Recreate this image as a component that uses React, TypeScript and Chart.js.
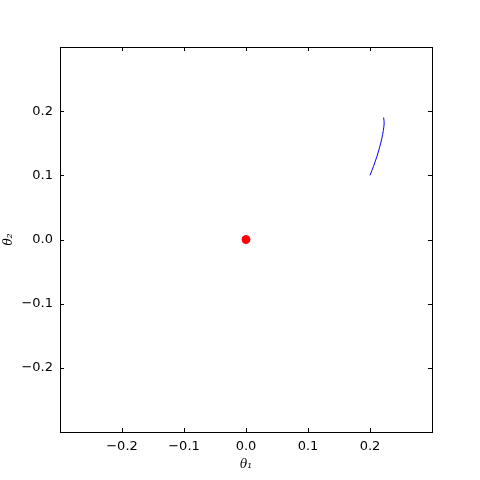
import React, { useEffect, useRef } from "react";
import { Chart, registerables } from "chart.js";

Chart.register(...registerables);

const curveX = [0.2, 0.206, 0.211, 0.2156, 0.219, 0.2215, 0.2228, 0.2225, 0.222];
const curveY = [0.1, 0.115, 0.129, 0.144, 0.157, 0.17, 0.18, 0.186, 0.19];
const pointX = [0.0];
const pointY = [0.0];
const tickValues = [-0.2, -0.1, 0.0, 0.1, 0.2];
const axisMin = -0.3;
const axisMax = 0.3;
const xTitle = "θ₁";
const yTitle = "θ₂";

const fmt = (v: number) => {
  const s = Math.abs(v).toFixed(1);
  return v < -1e-9 ? "\u2212" + s : s;
};

const framePlugin = {
  id: "frameTicks",
  afterDatasetsDraw(chart: any) {
    const { ctx, chartArea: a, scales } = chart;
    ctx.save();
    ctx.strokeStyle = "#000";
    ctx.lineWidth = 1;
    const L = 4;
    ctx.beginPath();
    for (const v of tickValues) {
      const px = Math.round(scales.x.getPixelForValue(v)) + 0.5;
      ctx.moveTo(px, a.bottom);
      ctx.lineTo(px, a.bottom - L);
      ctx.moveTo(px, a.top);
      ctx.lineTo(px, a.top + L);
      const py = Math.round(scales.y.getPixelForValue(v)) + 0.5;
      ctx.moveTo(a.left, py);
      ctx.lineTo(a.left + L, py);
      ctx.moveTo(a.right, py);
      ctx.lineTo(a.right - L, py);
    }
    ctx.stroke();
    ctx.strokeRect(Math.round(a.left) + 0.5, Math.round(a.top) + 0.5, Math.round(a.right - a.left), Math.round(a.bottom - a.top));
    ctx.restore();
  },
};

export default function App() {
  const ref = useRef<HTMLCanvasElement>(null);
  useEffect(() => {
    if (!ref.current) return;
    const tickFont = { family: "DejaVu Sans", size: 13 };
    const titleFont = { family: "DejaVu Serif", size: 12, style: "italic" as const };
    const chart = new Chart(ref.current, {
      type: "scatter",
      data: {
        datasets: [
          {
            data: curveX.map((x, i) => ({ x, y: curveY[i] })),
            showLine: true,
            borderColor: "#0000ff",
            borderWidth: 1,
            pointRadius: 0,
            tension: 0.3,
          },
          {
            data: pointX.map((x, i) => ({ x, y: pointY[i] })),
            pointRadius: 4,
            backgroundColor: "#ff0000",
            borderColor: "#ff0000",
          },
        ],
      },
      options: {
        animation: false,
        responsive: false,
        layout: { padding: { top: 47, right: 48, left: 0, bottom: 0 } },
        plugins: { legend: { display: false }, tooltip: { enabled: false } },
        scales: {
          x: {
            type: "linear",
            min: axisMin,
            max: axisMax,
            afterBuildTicks: (s: any) => {
              s.ticks = tickValues.map((v) => ({ value: v }));
            },
            afterFit: (s: any) => {
              s.height = 48;
            },
            grid: { display: false, drawTicks: false },
            border: { display: false },
            ticks: { color: "#000", font: tickFont, padding: 7, callback: (v: any) => fmt(Number(v)), maxRotation: 0 },
            title: { display: true, text: xTitle, color: "#000", font: titleFont, padding: { top: 0, bottom: 8 } },
          },
          y: {
            type: "linear",
            min: axisMin,
            max: axisMax,
            afterBuildTicks: (s: any) => {
              s.ticks = tickValues.map((v) => ({ value: v }));
            },
            afterFit: (s: any) => {
              s.width = 60;
            },
            grid: { display: false, drawTicks: false },
            border: { display: false },
            ticks: { color: "#000", font: tickFont, padding: 7, callback: (v: any) => fmt(Number(v)) },
            title: { display: true, text: yTitle, color: "#000", font: titleFont, padding: { top: 2, bottom: 0 } },
          },
        },
      },
      plugins: [framePlugin],
    });
    return () => chart.destroy();
  }, []);
  return (
    <div style={{ position: "absolute", left: 0, top: 0, width: 480, height: 480, background: "#fff" }}>
      <canvas ref={ref} width={480} height={480} style={{ width: 480, height: 480 }} />
    </div>
  );
}
